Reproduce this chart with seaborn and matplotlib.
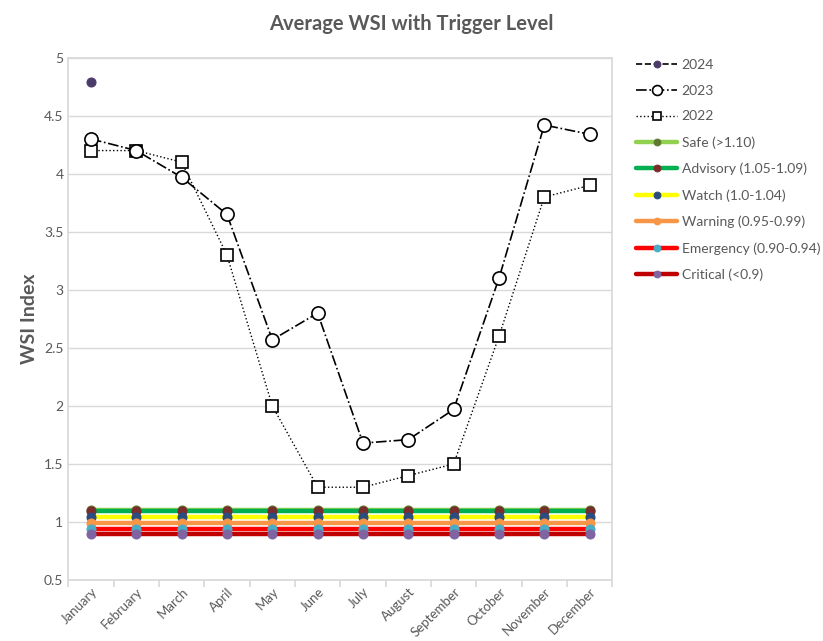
import pandas as pd
import matplotlib.pyplot as plt
import seaborn as sns

# datos
meses = ['January', 'February', 'March', 'April', 'May', 'June', 'July',
         'August', 'September', 'October', 'November', 'December']
wsi_2024 = [4.79]
wsi_2023 = [4.30, 4.20, 3.97, 3.65, 2.57, 2.80, 1.68, 1.71, 1.97, 3.10, 4.42, 4.34]
wsi_2022 = [4.20, 4.20, 4.10, 3.30, 2.00, 1.30, 1.30, 1.40, 1.50, 2.60, 3.80, 3.90]

niveles = ['Safe (>1.10)', 'Advisory (1.05-1.09)', 'Watch (1.0-1.04)',
           'Warning (0.95-0.99)', 'Emergency (0.90-0.94)', 'Critical (<0.9)']
valores_nivel = [1.10, 1.095, 1.04, 0.995, 0.94, 0.90]
color_linea = ['#92D050', '#00B050', '#FFFF00', '#F79646', '#FF0000', '#C00000']
color_marca = ['#5E7A2E', '#7B2C2C', '#2B4C7E', '#F79646', '#4BACC6', '#8064A2']

sns.set_theme(style="white")
plt.rcParams['font.family'] = ['Lato', 'DejaVu Sans']
gris = '#595959'

fig, ax = plt.subplots(figsize=(8.23, 6.41), dpi=100)
fig.subplots_adjust(left=0.083, right=0.744, top=0.91, bottom=0.095)

x = list(range(len(meses)))

# niveles de alerta
for nom, v, cl, cm in zip(niveles, valores_nivel, color_linea, color_marca):
    df_n = pd.DataFrame({'x': x, 'y': [v] * len(x)})
    sns.lineplot(data=df_n, x='x', y='y', ax=ax, color=cl, linewidth=3.2,
                 marker='o', markersize=6.5, markerfacecolor=cm,
                 markeredgecolor=cm, label=nom, zorder=3)

# series anuales
sns.lineplot(x=x[:len(wsi_2022)], y=wsi_2022, ax=ax, color='black', linewidth=1,
             linestyle=':', marker='s', markersize=8, markerfacecolor='white',
             markeredgecolor='black', markeredgewidth=1.2, label='2022', zorder=4)
sns.lineplot(x=x[:len(wsi_2023)], y=wsi_2023, ax=ax, color='black', linewidth=1.2,
             linestyle='-.', marker='o', markersize=9.5, markerfacecolor='white',
             markeredgecolor='black', markeredgewidth=1.2, label='2023', zorder=5)
sns.lineplot(x=x[:len(wsi_2024)], y=wsi_2024, ax=ax, color='black', linewidth=1.2,
             linestyle='--', marker='o', markersize=6.5, markerfacecolor='#4B3B6B',
             markeredgecolor='#4B3B6B', label='2024', zorder=6)

ax.set_xlim(-0.5, 11.5)
ax.set_ylim(0.5, 5)
ax.set_yticks([0.5, 1, 1.5, 2, 2.5, 3, 3.5, 4, 4.5, 5])
ax.set_yticklabels(['0.5', '1', '1.5', '2', '2.5', '3', '3.5', '4', '4.5', '5'])
ax.yaxis.grid(True, color='#D9D9D9', linewidth=1)
ax.set_axisbelow(True)

# ticks entre categorias
ax.set_xticks([i - 0.5 for i in range(13)])
ax.set_xticklabels([])
ax.set_xticks(x, minor=True)
ax.set_xticklabels(meses, minor=True, rotation=45, ha='right',
                   rotation_mode='anchor', fontsize=9.5, color=gris)
ax.tick_params(axis='x', which='major', length=5, color='#D9D9D9', bottom=True)
ax.tick_params(axis='x', which='minor', length=0, pad=4)
ax.tick_params(axis='y', labelsize=10, colors=gris, length=0)

for s in ['top', 'right', 'left', 'bottom']:
    ax.spines[s].set_color('#D9D9D9')

ax.set_xlabel('')
ax.set_ylabel('WSI Index', fontsize=14, fontweight='bold', color=gris)
ax.set_title('Average WSI with Trigger Level', fontsize=14.5, fontweight='bold',
             color=gris, pad=20, x=0.63)

h, l = ax.get_legend_handles_labels()
orden = ['2024', '2023', '2022'] + niveles
hs = [h[l.index(o)] for o in orden]
leg = ax.legend(hs, orden, loc='upper left', bbox_to_anchor=(1.02, 1.022),
                frameon=False, fontsize=10, labelspacing=1.0, handlelength=3.0,
                handletextpad=0.3, markerscale=0.75)
for t in leg.get_texts():
    t.set_color(gris)

plt.savefig('out.png', dpi=100)
plt.close()
